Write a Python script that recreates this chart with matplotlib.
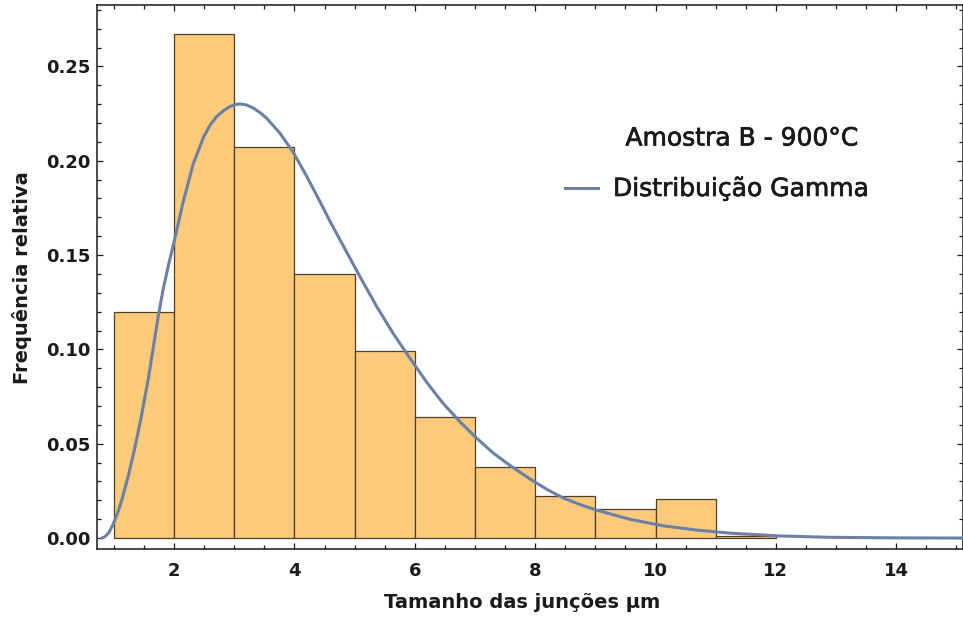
import numpy as np
import matplotlib
matplotlib.use('Agg')
import matplotlib.pyplot as plt
import matplotlib.patheffects as pe
from matplotlib.lines import Line2D
from matplotlib.ticker import MultipleLocator

# colours
BAR   = '#FBCA7B'
EDGE  = '#4f4029'
CURVE = '#6c80a6'
INK   = '#1a1a1a'

# histogram (relative frequency per 1 um bin)
bin_edges = [1, 2, 3, 4, 5, 6, 7, 8, 9, 10, 11, 12]
freq      = [0.120, 0.267, 0.2075, 0.140, 0.099, 0.064,
             0.0375, 0.0223, 0.0152, 0.0205, 0.0012]

# fitted gamma curve
gamma_x = [0.80, 0.85, 0.92, 0.99, 1.06, 1.13, 1.24, 1.35, 1.46, 1.57, 1.66,
           1.74, 1.82, 1.91, 2.00, 2.15, 2.32, 2.49, 2.60, 2.71, 2.82, 2.93,
           3.02, 3.10, 3.20, 3.32, 3.43, 3.54, 3.76, 3.98, 4.20, 4.43, 4.59,
           4.81, 5.09, 5.37, 5.64, 5.92, 6.20, 6.47, 6.75, 7.03, 7.31, 7.59,
           7.92, 8.20, 8.47, 8.75, 9.02, 9.58, 10.13, 10.69, 11.24, 12.07,
           12.90, 14.01, 15.11]
gamma_y = [0.000, 0.0007, 0.003, 0.0075, 0.013, 0.020, 0.033, 0.048, 0.065,
           0.084, 0.102, 0.118, 0.132, 0.145, 0.157, 0.178, 0.1985, 0.2125,
           0.219, 0.2235, 0.2265, 0.2288, 0.2298, 0.2301, 0.2296, 0.2279,
           0.2255, 0.2225, 0.2146, 0.2045, 0.192, 0.178, 0.168, 0.155,
           0.1385, 0.1226, 0.1085, 0.0953, 0.0825, 0.0714, 0.0617, 0.0529,
           0.0449, 0.0383, 0.0312, 0.0257, 0.0212, 0.0177, 0.0148, 0.0099,
           0.0065, 0.0042, 0.0026, 0.0011, 0.0004, 0.0001, 0.0]

W, H = 963, 621
fig = plt.figure(figsize=(W / 100, H / 100), dpi=100)
fig.patch.set_facecolor('white')

ax = fig.add_axes([97 / W, 1 - 549 / H, (962.5 - 97) / W, (549 - 5.3) / H])
ax.bar(bin_edges[:-1], freq, width=np.diff(bin_edges), align='edge',
       color=BAR, edgecolor=EDGE, linewidth=0.9, zorder=2)
ax.plot(gamma_x, gamma_y, color=CURVE, lw=2.2, solid_capstyle='round',
        solid_joinstyle='round', zorder=3)

ax.set_xlim(0.72, 15.10)
ax.set_ylim(-0.0058, 0.2824)

ax.xaxis.set_major_locator(MultipleLocator(2))
ax.xaxis.set_minor_locator(MultipleLocator(0.5))
ax.yaxis.set_major_locator(MultipleLocator(0.05))
ax.yaxis.set_minor_locator(MultipleLocator(0.01))
ax.yaxis.set_major_formatter(plt.FuncFormatter(lambda v, p: f'{v:.2f}'))
ax.xaxis.set_major_formatter(plt.FuncFormatter(lambda v, p: f'{v:.0f}'))

ax.tick_params(which='both', direction='in', top=True, right=True,
               color=INK, width=0.9)
ax.tick_params(which='major', length=4.5)
ax.tick_params(which='minor', length=2.6)
ax.tick_params(axis='y', which='major', pad=4.5)
ax.tick_params(axis='x', which='major', pad=9)
for lab in ax.get_xticklabels() + ax.get_yticklabels():
    lab.set_fontsize(13)
    lab.set_fontweight('bold')
    lab.set_color(INK)
for s in ax.spines.values():
    s.set_color(INK)
    s.set_linewidth(1.1)

# axis titles
fig.text(22 / W, 1 - 278 / H, 'Frequência relativa', rotation=90,
         ha='center', va='center', fontsize=14, fontweight='bold', color=INK)
fig.text(522 / W, 1 - 608 / H, 'Tamanho das junções μm',
         ha='center', va='baseline', fontsize=14, fontweight='bold', color=INK)

# legend block (slightly heavier strokes, like the original)
heavy = [pe.withStroke(linewidth=0.5, foreground=INK)]
fig.text(742 / W, 1 - 145.5 / H, 'Amostra B - 900°C', ha='center',
         va='baseline', fontsize=18, color=INK, path_effects=heavy)
fig.add_artist(Line2D([565 / W, 598 / W], [1 - 188 / H, 1 - 188 / H],
                      transform=fig.transFigure, color=CURVE, lw=2.2))
fig.text(613 / W, 1 - 196 / H, 'Distribuição Gamma', ha='left',
         va='baseline', fontsize=18, color=INK, path_effects=heavy)

fig.savefig('out.png', dpi=100, facecolor='white')
